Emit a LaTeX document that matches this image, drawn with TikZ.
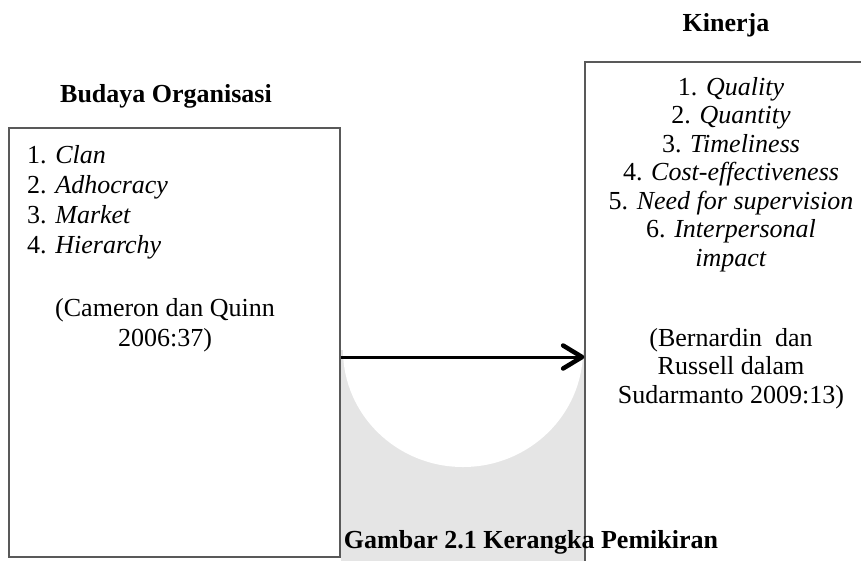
\documentclass[tikz,border=0pt]{standalone}
\usepackage{fontspec}
\setmainfont{Liberation Serif}
\usetikzlibrary{arrows.meta}
\begin{document}
\begin{tikzpicture}[x=1pt,y=-1pt,
  frame/.style={draw=black!65, line width=1.3pt, fill=none, inner sep=0pt},
  txt/.style={font=\fontsize{26}{30}\selectfont, inner sep=0pt},
  ttl/.style={font=\bfseries\fontsize{26}{30}\selectfont, inner sep=0pt, anchor=base},
  litem/.style={txt, anchor=base west},
  citem/.style={txt, anchor=base},
  link/.style={line width=3pt, -{Straight Barb[length=19pt,width=23pt,line width=4.5pt,round]}}]
\useasboundingbox (0,0) rectangle (861,560);
\clip (0,0) rectangle (861,560);
% watermark
\fill[black!10] (341,350) rectangle (584,565);
\fill[white] (463,350) ellipse[x radius=120pt, y radius=117pt];
% boxes
\node[frame, minimum width=331pt, minimum height=429pt] (budaya) at (174.5,342.5) {};
\node[frame, minimum width=330pt, minimum height=560pt] (kinerja) at (750,342) {};
% titles
\node[ttl] (tb) at (166,102) {Budaya Organisasi};
\node[ttl] (tk) at (726,31) {Kinerja};
% left content
\node[litem] (l1) at (27,163) {1. \textit{Clan}};
\node[litem] (l2) at (27,193) {2. \textit{Adhocracy}};
\node[litem] (l3) at (27,223) {3. \textit{Market}};
\node[litem] (l4) at (27,253) {4. \textit{Hierarchy}};
\node[citem] (lc1) at (165,316) {(Cameron\ dan\ Quinn};
\node[citem] (lc2) at (165,346) {2006:37)};
% right content
\node[citem] (r1) at (731,95) {1. \textit{Quality}};
\node[citem] (r2) at (731,123.5) {2. \textit{Quantity}};
\node[citem] (r3) at (731,152) {3. \textit{Timeliness}};
\node[citem] (r4) at (731,180.5) {4. \textit{Cost-effectiveness}};
\node[citem] (r5) at (731,209) {5. \textit{Need for supervision}};
\node[citem] (r6) at (731,237.5) {6. \textit{Interpersonal}};
\node[citem] (r7) at (731,266) {\textit{impact}};
\node[citem] (rc1) at (731,346) {(Bernardin\ \ dan};
\node[citem] (rc2) at (731,374.5) {Russell dalam};
\node[citem] (rc3) at (731,403) {Sudarmanto\ 2009:13)};
% arrow
\coordinate (ay) at (0,357);
\draw[link] (budaya.east |- ay) -- (kinerja.west |- ay);
% caption
\node[ttl] (cap) at (531,548) {Gambar\ 2.1 Kerangka\ Pemikiran};
\end{tikzpicture}
\end{document}
